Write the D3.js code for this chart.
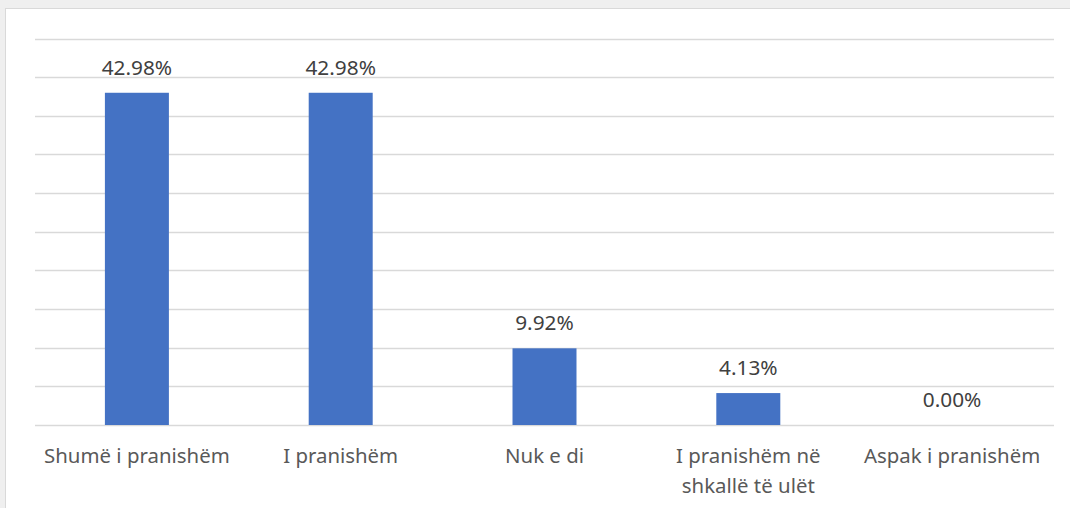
<!DOCTYPE html>
<html>
<head>
<meta charset="utf-8">
<script src="https://cdn.jsdelivr.net/npm/d3@7"></script>
<style>
  html, body { margin: 0; padding: 0; background: #efefef; }
  svg { display: block; }
</style>
</head>
<body>
<svg id="chart" width="1070" height="508"></svg>
<script>
var svg = d3.select("#chart");

const categories = ["Shumë i pranishëm", "I pranishëm", "Nuk e di", "I pranishëm në shkallë të ulët", "Aspak i pranishëm"];
const values = [42.98, 42.98, 9.92, 4.13, 0.00];
const gridTicks = [0, 5, 10, 15, 20, 25, 30, 35, 40, 45, 50];

const plotLeft = 35, plotRight = 1054, plotTop = 38.5, plotBottom = 425;
const fontFamily = "'Segoe UI', 'Noto Sans', 'Open Sans', sans-serif";

// chart area (cropped on right and bottom)
svg.append("rect")
    .attr("x", 5.5).attr("y", 8.5)
    .attr("width", 1080).attr("height", 520)
    .attr("fill", "#ffffff")
    .attr("stroke", "#d9d9d9")
    .attr("stroke-width", 1);

var x = d3.scaleBand().domain(categories).range([plotLeft, plotRight]).padding(0);
var y = d3.scaleLinear().domain([0, 50]).range([plotBottom, plotTop]);

// gridlines
svg.append("g")
    .selectAll("line")
    .data(gridTicks)
    .join("line")
    .attr("x1", plotLeft).attr("x2", plotRight)
    .attr("y1", d => Math.round(y(d)) + 0.5)
    .attr("y2", d => Math.round(y(d)) + 0.5)
    .attr("stroke", "#d9d9d9")
    .attr("stroke-width", 1.3);

const barWidth = x.bandwidth() * 0.314;

svg.append("g")
    .selectAll("rect")
    .data(values)
    .join("rect")
    .attr("x", (d, i) => x(categories[i]) + x.bandwidth() / 2 - barWidth / 2)
    .attr("y", d => y(d))
    .attr("width", barWidth)
    .attr("height", d => y(0) - y(d))
    .attr("fill", "#4472c4");

// value labels
svg.append("g")
    .selectAll("text")
    .data(values)
    .join("text")
    .attr("x", (d, i) => x(categories[i]) + x.bandwidth() / 2)
    .attr("y", d => y(d) - 18)
    .attr("text-anchor", "middle")
    .attr("font-family", fontFamily)
    .attr("font-size", "20.8px")
    .attr("fill", "#404040")
    .text(d => d.toFixed(2) + "%");

// category labels with wrapping
var catG = svg.append("g");
categories.forEach(function (c, i) {
    var cx = x(c) + x.bandwidth() / 2;
    var t = catG.append("text")
        .attr("x", cx)
        .attr("y", 463)
        .attr("text-anchor", "middle")
        .attr("font-family", fontFamily)
        .attr("font-size", "20.4px")
        .attr("fill", "#595959");
    var words = c.split(" ");
    var line = [];
    var tspan = t.append("tspan").attr("x", cx).attr("dy", 0);
    words.forEach(function (w) {
        line.push(w);
        tspan.text(line.join(" "));
        if (tspan.node().getComputedTextLength() > x.bandwidth() - 4 && line.length > 1) {
            line.pop();
            tspan.text(line.join(" "));
            line = [w];
            tspan = t.append("tspan").attr("x", cx).attr("dy", 30).text(w);
        }
    });
});
</script>
</body>
</html>
